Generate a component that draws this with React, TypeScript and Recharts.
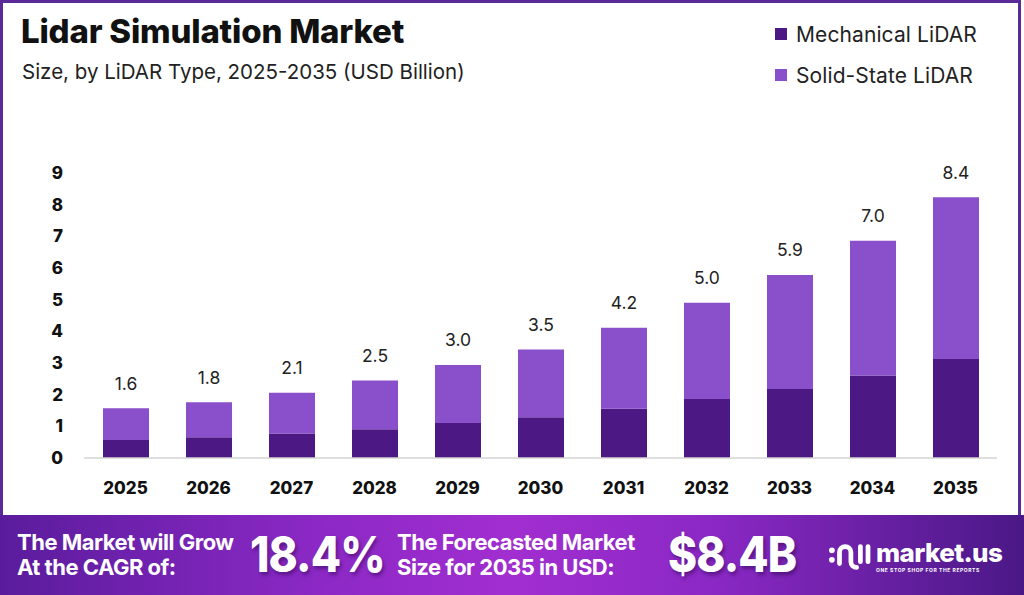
import React from 'react';
import { BarChart, Bar, XAxis, YAxis, LabelList } from 'recharts';

const years = ['2025', '2026', '2027', '2028', '2029', '2030', '2031', '2032', '2033', '2034', '2035'];
const mechanical = [0.58, 0.67, 0.79, 0.93, 1.13, 1.31, 1.59, 1.9, 2.22, 2.66, 3.19];
const solidState = [1.02, 1.13, 1.31, 1.57, 1.87, 2.19, 2.61, 3.1, 3.68, 4.34, 5.21];
const totals = [1.6, 1.8, 2.1, 2.5, 3.0, 3.5, 4.2, 5.0, 5.9, 7.0, 8.4];
const yTicks = [0, 1, 2, 3, 4, 5, 6, 7, 8, 9];

const DARK = '#4c1883';
const LIGHT = '#8a4fcb';
const FONT = 'Inter, "Noto Sans", sans-serif';

const data = years.map((year, i) => ({
  year,
  mechanical: mechanical[i],
  solid: solidState[i],
  total: totals[i],
}));

const TotalLabel = (props: any) => {
  const { x, y, width, index } = props;
  return (
    <text
      x={x + width / 2}
      y={y - 25}
      textAnchor="middle"
      dominantBaseline="central"
      fontFamily={FONT}
      fontSize={17.5}
      fill="#222"
    >
      {totals[index].toFixed(1)}
    </text>
  );
};

// y tick labels sit right-aligned a little left of the axis start
const YTick = (props: any) => {
  const { y, payload } = props;
  return (
    <text x={63} y={y} textAnchor="end" dominantBaseline="central" fontFamily={FONT} fontSize={17} fontWeight={800} fill="#111">
      {payload.value}
    </text>
  );
};

function Logo() {
  return (
    <div style={{ position: 'absolute', left: 827, top: 537, display: 'flex', alignItems: 'center' }}>
      <svg width="44" height="38" viewBox="0 0 46 40">
        <circle cx="5" cy="14" r="3" fill="#fff" />
        <circle cx="5" cy="24" r="3" fill="#fff" />
        <path d="M13 28 V16 a6 6 0 0 1 12 0 V26 a6 6 0 0 0 6 6" stroke="#fff" strokeWidth="5" fill="none" strokeLinecap="round" />
        <path d="M35 10 V26" stroke="#fff" strokeWidth="5" strokeLinecap="round" />
        <path d="M43 10 V26" stroke="#fff" strokeWidth="5" strokeLinecap="round" />
      </svg>
      <div style={{ marginLeft: 5, color: '#fff', fontFamily: FONT }}>
        <div style={{ fontSize: 26, fontWeight: 800, lineHeight: '26px', letterSpacing: -0.6 }}>market.us</div>
        <div style={{ fontSize: 5, fontWeight: 700, letterSpacing: 0.55, marginTop: 1 }}>ONE STOP SHOP FOR THE REPORTS</div>
      </div>
    </div>
  );
}

export default function App() {
  const footText: React.CSSProperties = {
    position: 'absolute',
    color: '#fff',
    fontFamily: FONT,
    fontWeight: 700,
    fontSize: 22,
    lineHeight: '25px',
    letterSpacing: -0.5,
  };
  const bigText: React.CSSProperties = {
    position: 'absolute',
    color: '#fff',
    fontFamily: FONT,
    fontWeight: 800,
    fontSize: 49,
    lineHeight: '50px',
    letterSpacing: -1,
    transform: 'scaleX(0.9)',
    transformOrigin: 'left center',
    textShadow: '2px 3px 4px rgba(40,0,70,0.45)',
  };

  return (
    <div style={{ position: 'fixed', left: 0, top: 0, width: 1024, height: 595, background: '#fff', overflow: 'hidden' }}>
      <div
        style={{
          position: 'absolute',
          left: 0,
          top: 0,
          width: 1021,
          height: 515,
          boxSizing: 'border-box',
          border: '3px solid #5a2a98',
          borderBottom: 'none',
        }}
      />
      <div style={{ position: 'absolute', left: 21, top: 11, fontFamily: FONT, fontWeight: 800, fontSize: 33, lineHeight: '40px', color: '#111', letterSpacing: -0.2 }}>
        Lidar Simulation Market
      </div>
      <div style={{ position: 'absolute', left: 22, top: 59, fontFamily: FONT, fontSize: 20.5, lineHeight: '26px', color: '#222' }}>
        Size, by LiDAR Type, 2025-2035 (USD Billion)
      </div>

      {[
        { label: 'Mechanical LiDAR', color: DARK, top: 21 },
        { label: 'Solid-State LiDAR', color: LIGHT, top: 62 },
      ].map((item) => (
        <div key={item.label} style={{ position: 'absolute', left: 775, top: item.top, height: 26, display: 'flex', alignItems: 'center' }}>
          <div style={{ width: 12, height: 12, background: item.color }} />
          <span style={{ marginLeft: 9, fontFamily: FONT, fontSize: 21, color: '#222', letterSpacing: 0.1 }}>{item.label}</span>
        </div>
      ))}

      <div style={{ position: 'absolute', left: 0, top: 0 }}>
        <BarChart width={1024} height={520} data={data} margin={{ top: 173, right: 27, left: 0, bottom: 22 }}>
          <XAxis
            dataKey="year"
            height={40}
            tickLine={false}
            tickSize={0}
            tickMargin={24}
            axisLine={{ stroke: '#d4d4d4', strokeWidth: 1.5 }}
            tick={{ fill: '#111', fontSize: 17, fontWeight: 800, fontFamily: FONT }}
          />
          <YAxis
            yAxisId="ticks"
            type="number"
            width={84}
            domain={[0, 9]}
            ticks={yTicks}
            interval={0}
            allowDataOverflow
            axisLine={false}
            tickLine={false}
            tick={<YTick />}
          />
          <YAxis yAxisId="bars" type="number" hide domain={[0, 9.185]} allowDataOverflow />
          <Bar yAxisId="bars" dataKey="mechanical" stackId="a" fill={DARK} barSize={46} isAnimationActive={false} />
          <Bar yAxisId="bars" dataKey="solid" stackId="a" fill={LIGHT} barSize={46} isAnimationActive={false}>
            <LabelList dataKey="total" content={TotalLabel} />
          </Bar>
        </BarChart>
      </div>

      <div
        style={{
          position: 'absolute',
          left: 0,
          top: 515,
          width: 1024,
          height: 80,
          background: 'linear-gradient(90deg, #5a1c9c 0%, #8a28c4 30%, #a22ed0 50%, #8a28c4 70%, #4a1886 100%)',
        }}
      />
      <div style={{ ...footText, left: 17, top: 530 }}>
        The Market will Grow
        <br />
        At the CAGR of:
      </div>
      <div style={{ ...bigText, left: 250, top: 530 }}>18.4%</div>
      <div style={{ ...footText, left: 397, top: 530 }}>
        The Forecasted Market
        <br />
        Size for 2035 in USD:
      </div>
      <div style={{ ...bigText, left: 668, top: 530 }}>$8.4B</div>
      <Logo />
    </div>
  );
}
